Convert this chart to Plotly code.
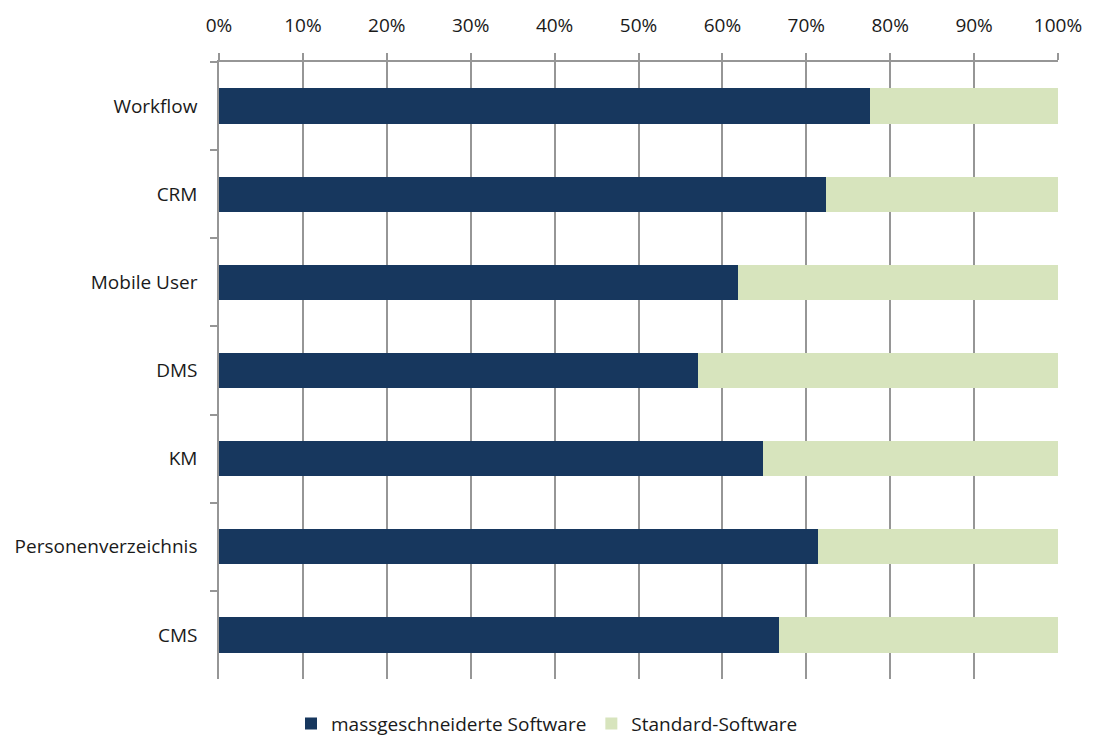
import plotly.graph_objects as go

# Categories, listed top to bottom
categories = ["Workflow", "CRM", "Mobile User", "DMS", "KM", "Personenverzeichnis", "CMS"]
# Share of tailor-made software per category
massgeschneidert = [0.776, 0.724, 0.618, 0.571, 0.648, 0.714, 0.667]
# Remaining share: standard software
standard = [round(1 - v, 3) for v in massgeschneidert]

series_names = ["massgeschneiderte Software", "Standard-Software"]
series_colors = ["#17375E", "#D7E4BD"]

fig = go.Figure()
for name, values, color in zip(series_names, [massgeschneidert, standard], series_colors):
    fig.add_trace(go.Bar(
        name=name,
        y=categories,
        x=values,
        orientation="h",
        marker=dict(color=color, line=dict(width=0)),
        width=0.4,
        hoverinfo="x+y+name",
    ))

axis_gray = "#969696"
font_family = "'Open Sans', sans-serif"

fig.update_layout(
    barmode="stack",
    width=1094,
    height=740,
    margin=dict(l=219, r=35, t=60, b=61),
    paper_bgcolor="white",
    plot_bgcolor="white",
    font=dict(family=font_family, size=19, color="#1a1a1a"),
    showlegend=True,
    legend=dict(
        orientation="h",
        traceorder="normal",
        xref="container",
        x=0.5,
        xanchor="center",
        yref="container",
        y=0.022,
        yanchor="middle",
        font=dict(size=19),
        itemwidth=30,
        tracegroupgap=0,
    ),
    xaxis=dict(
        side="top",
        range=[0, 1],
        dtick=0.1,
        tick0=0,
        tickformat=".0%",
        showgrid=True,
        gridcolor=axis_gray,
        gridwidth=1.5,
        zeroline=False,
        showline=True,
        linecolor=axis_gray,
        linewidth=1.5,
        ticks="outside",
        ticklen=7,
        tickcolor=axis_gray,
        tickwidth=1.5,
        ticklabelstandoff=14,
        fixedrange=True,
    ),
    yaxis=dict(
        categoryorder="array",
        categoryarray=categories,
        autorange="reversed",
        tickson="boundaries",
        ticks="outside",
        ticklen=7,
        tickcolor=axis_gray,
        tickwidth=1.5,
        showline=True,
        linecolor=axis_gray,
        linewidth=1.5,
        showgrid=False,
        zeroline=False,
        ticklabelstandoff=16,
        fixedrange=True,
    ),
)

fig.write_html("out.html")
